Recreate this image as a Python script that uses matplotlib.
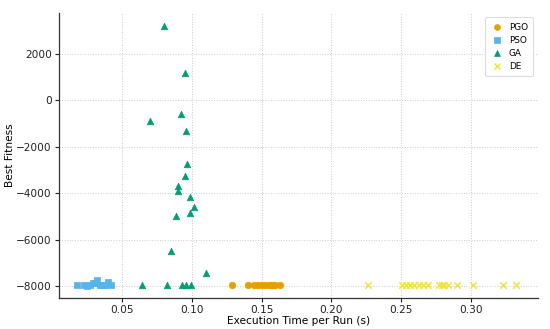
import matplotlib
matplotlib.use("Agg")
import matplotlib.pyplot as plt

# Data
pgo_time = [0.129, 0.140, 0.1447, 0.1475, 0.150, 0.1525, 0.155, 0.157, 0.158, 0.160, 0.163]
pgo_fit = [-7950] * len(pgo_time)

pso_time = [0.018, 0.023, 0.025, 0.027, 0.029, 0.031, 0.032, 0.034, 0.036, 0.038, 0.040, 0.042]
pso_fit = [-7950, -7950, -7970, -7950, -7880, -7850, -7720, -7950, -7950, -7950, -7800, -7950]

ga_time = [0.0798, 0.0952, 0.0923, 0.0699, 0.0959, 0.0969, 0.0952, 0.0899, 0.0899,
           0.0988, 0.1019, 0.0990, 0.0885, 0.0848, 0.1100,
           0.0644, 0.0820, 0.0928, 0.0962, 0.0998]
ga_fit = [3200, 1200, -600, -880, -1320, -2720, -3240, -3690, -3880,
          -4170, -4580, -4830, -4970, -6500, -7440,
          -7950, -7950, -7950, -7950, -7950]

de_time = [0.2265, 0.2506, 0.2535, 0.2563, 0.2595, 0.263, 0.266, 0.269,
           0.2775, 0.2794, 0.281, 0.2835, 0.290, 0.3015, 0.3227, 0.3323]
de_fit = [-7950] * len(de_time)

labels = ["PGO", "PSO", "GA", "DE"]
colors = ["#E69F00", "#56B4E9", "#009E73", "#F0E442"]
markers = ["o", "s", "^", "x"]

plt.rcParams['font.family'] = ['DejaVu Sans']
fig = plt.figure(figsize=(5.5, 3.29), dpi=100)
ax = fig.add_axes([0.107, 0.094, 0.871, 0.867])

series = [(pgo_time, pgo_fit), (pso_time, pso_fit), (ga_time, ga_fit), (de_time, de_fit)]
for (xs, ys), lab, c, m in zip(series, labels, colors, markers):
    ax.scatter(xs, ys, s=22, color=c, marker=m, label=lab, linewidths=1.1 if m == "x" else 0.5,
               edgecolors=None if m == "x" else c, zorder=3)

ax.grid(True, color="#cccccc", linestyle=":", linewidth=0.7)
ax.set_axisbelow(True)
for s in ["top", "right"]:
    ax.spines[s].set_visible(False)
for s in ["left", "bottom"]:
    ax.spines[s].set_color("#333333")
    ax.spines[s].set_linewidth(0.9)
ax.tick_params(labelsize=7.6, length=3, width=0.8, colors="#222222", pad=2)
ax.set_xlabel("Execution Time per Run (s)", fontsize=7.6, labelpad=1)
ax.set_ylabel("Best Fitness", fontsize=7.6, labelpad=1)
ax.set_xticks([0.05, 0.10, 0.15, 0.20, 0.25, 0.30])
ax.set_xticklabels(["0.05", "0.10", "0.15", "0.20", "0.25", "0.30"])
ax.set_yticks([-8000, -6000, -4000, -2000, 0, 2000])
ax.set_xlim(0.0048, 0.348)
ax.set_ylim(-8510, 3770)

leg = ax.legend(loc="upper right", fontsize=6.4, frameon=True, framealpha=1,
                edgecolor="#dddddd", borderpad=0.6, handletextpad=0.5, labelspacing=0.45,
                markerscale=0.9, handlelength=1.6)
leg.get_frame().set_linewidth(0.8)

fig.savefig("out.png", dpi=100)
